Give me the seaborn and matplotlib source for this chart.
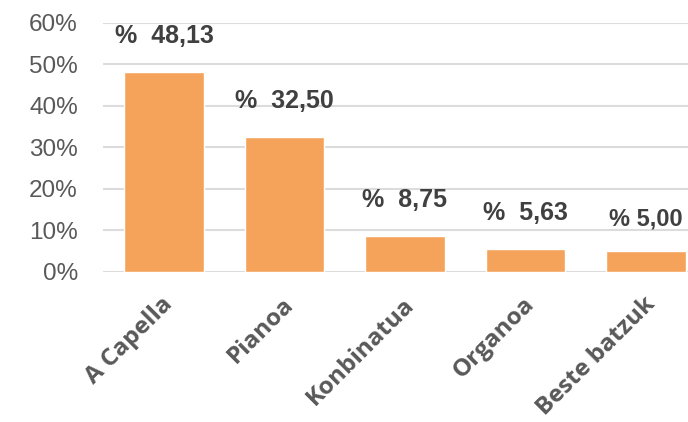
import matplotlib
matplotlib.use("Agg")
import matplotlib.pyplot as plt
import matplotlib.transforms as mtransforms
import seaborn as sns
from matplotlib.ticker import PercentFormatter

# Data
categories = ["A Capella", "Pianoa", "Konbinatua", "Organoa", "Beste batzuk"]
shares = [0.4813, 0.3250, 0.0875, 0.0563, 0.0500]
bar_labels = ["%  48,13", "%  32,50", "%  8,75", "%  5,63", "% 5,00"]
y_ticks = [0.0, 0.1, 0.2, 0.3, 0.4, 0.5, 0.6]

bar_color = "#F5A35A"
text_gray = "#595959"
label_dark = "#404040"

sns.set_style("white")
plt.rcParams["font.family"] = ["Liberation Sans", "DejaVu Sans"]

fig = plt.figure(figsize=(6.88, 4.22), dpi=100)
ax = fig.add_axes([0.1497, 0.3555, 0.8503, 0.59])

sns.barplot(x=categories, y=shares, color=bar_color, width=0.66,
            saturation=1, ax=ax, zorder=3)

ax.set_ylim(0, 0.6)
ax.set_xlim(-0.506, 4.35)
ax.set_yticks(y_ticks)
ax.yaxis.set_major_formatter(PercentFormatter(1.0, decimals=0))
ax.grid(axis="y", color="#DCDCDC", linewidth=1.5, zorder=0)
ax.set_axisbelow(True)
sns.despine(ax=ax, left=True, bottom=True, top=True, right=True)

ax.tick_params(axis="y", length=0, pad=18, labelsize=17.5, labelcolor=text_gray)
ax.tick_params(axis="x", length=0, pad=21)
shift = mtransforms.ScaledTranslation(4 / 72, 0, fig.dpi_scale_trans)
for lbl in ax.get_xticklabels():
    lbl.set_rotation(45)
    lbl.set_ha("right")
    lbl.set_va("center")
    lbl.set_rotation_mode("anchor")
    lbl.set_fontfamily(["Open Sans", "DejaVu Sans"])
    lbl.set_fontweight("bold")
    lbl.set_fontsize(17.5)
    lbl.set_color(text_gray)
    lbl.set_transform(lbl.get_transform() + shift)

# value labels above bars
for i, (v, txt) in enumerate(zip(shares, bar_labels)):
    size = 17 if i == len(shares) - 1 else 18
    off = 23 if i == len(shares) - 1 else 26
    ax.annotate(txt, (i, v), xytext=(0, off), textcoords="offset points",
                ha="center", va="center", fontsize=size, fontweight="bold",
                color=label_dark, annotation_clip=False)

fig.savefig("out.png", dpi=100)
